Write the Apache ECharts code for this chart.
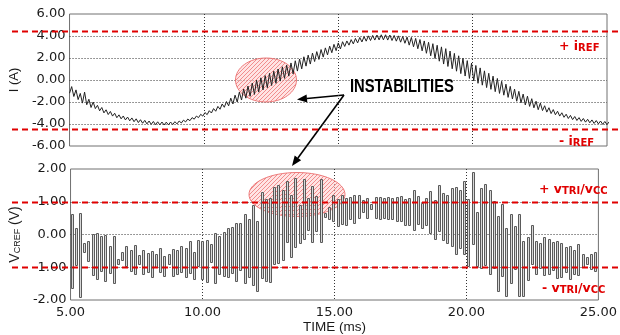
<!DOCTYPE html>
<html>
<head>
<meta charset="utf-8">
<script src="https://cdn.jsdelivr.net/npm/echarts@6/dist/echarts.min.js"></script>
<style>
html, body { margin: 0; padding: 0; background: #ffffff; }
#chart { width: 620px; height: 335px; }
</style>
</head>
<body>
<div id="chart"></div>
<script>
// Inductor current: alternating ripple trough / crest, one value every 0.08 ms from 5 ms
const currentStart = 5.0;
const currentStep = 0.08;
const currentA = [
  -1.2,-0.6, -1.5,-0.9, -1.78,-1.22, -2.1,-1.1, -2.25,-1.75, -2.5,-2.0, -2.6,-2.3, -2.8,-2.5, -2.99,-2.71, -3.14,-2.86,
  -3.28,-3.02, -3.43,-3.17, -3.53,-3.27, -3.63,-3.37, -3.71,-3.45, -3.79,-3.53, -3.87,-3.61, -3.93,-3.67, -3.99,-3.73, -4.03,-3.77,
  -4.06,-3.8, -4.08,-3.82, -4.09,-3.83, -4.08,-3.82, -4.05,-3.79, -3.99,-3.73, -3.91,-3.65, -3.81,-3.55, -3.7,-3.42, -3.56,-3.28,
  -3.42,-3.12, -3.28,-2.96, -3.15,-2.79, -3.0,-2.6, -2.84,-2.4, -2.66,-2.18, -2.48,-1.96, -2.35,-1.65, -2.18,-1.38, -2.0,-1.1,
  -1.82,-0.82, -1.65,-0.55, -1.48,-0.28, -1.31,-0.01, -1.1,0.2, -0.9,0.4, -0.7,0.6, -0.5,0.8, -0.3,1.0, -0.1,1.2,
  0.15,1.35, 0.35,1.55, 0.55,1.75, 0.81,1.91, 1.01,2.11, 1.26,2.26, 1.45,2.45, 1.68,2.58, 1.87,2.77, 2.08,2.92,
  2.28,3.08, 2.48,3.24, 2.67,3.37, 2.82,3.48, 3.05,3.55, 3.17,3.67, 3.28,3.78, 3.37,3.87, 3.46,3.94, 3.53,4.01,
  3.59,4.05, 3.63,4.09, 3.65,4.11, 3.65,4.11, 3.63,4.09, 3.59,4.05, 3.53,4.01, 3.44,3.96, 3.34,3.9, 3.17,3.87,
  3.02,3.78, 2.84,3.68, 2.65,3.55, 2.43,3.43, 2.2,3.3, 1.96,3.16, 1.71,3.01, 1.45,2.85, 1.23,2.63, 1.02,2.42,
  0.8,2.2, 0.58,1.98, 0.36,1.76, 0.14,1.54, -0.08,1.32, -0.3,1.1, -0.47,0.83, -0.69,0.61, -0.85,0.35, -1.06,0.14,
  -1.22,-0.12, -1.38,-0.38, -1.58,-0.58, -1.73,-0.83, -1.93,-1.03, -2.08,-1.28, -2.27,-1.47, -2.4,-1.7, -2.53,-1.93, -2.7,-2.1,
  -2.78,-2.34, -2.92,-2.52, -3.05,-2.69, -3.16,-2.84, -3.28,-2.98, -3.39,-3.11, -3.5,-3.22, -3.6,-3.32, -3.68,-3.42, -3.76,-3.5,
  -3.83,-3.57, -3.89,-3.63, -3.95,-3.69, -3.99,-3.73, -4.03,-3.77, -4.06,-3.8
];

// Control voltage V_CREF: one held pulse every 0.16 ms, its upper and lower level
const pulseStart = 5.0;
const pulsePeriod = 0.16;
const pulseHigh = [
  0.64, 0.19, 0.67, -0.27, -0.19, 0.03, 0.06, -0.04, -0.01, -0.34,
  -0.06, -0.75, -0.52, -0.35, -0.47, -0.32, -0.62, -0.47, -0.55, -0.50,
  -0.60, -0.41, -0.65, -0.60, -0.45, -0.47, -0.36, -0.41, -0.21, -0.53,
  -0.16, -0.20, -0.17, -0.29, 0.06, -0.05, 0.09, 0.19, 0.24, 0.36,
  0.36, 0.62, 0.46, 0.90, 0.41, 1.30, 1.09, 1.12, 1.44, 1.52,
  1.37, 1.63, 1.20, 1.73, 0.89, 1.68, 1.10, 1.47, 1.17, 1.68,
  0.65, 0.84, 1.20, 1.07, 1.22, 1.12, 1.14, 1.20, 1.22, 1.04,
  1.12, 0.92, 1.14, 1.15, 1.12, 1.14, 1.12, 1.15, 1.17, 1.09,
  1.12, 1.37, 1.17, 0.97, 1.12, 1.34, 1.04, 1.50, 1.27, 1.22,
  1.42, 1.44, 1.37, 1.63, 1.08, 1.91, 0.69, 1.42, 1.53, 1.37,
  1.02, 0.57, 0.94, 0.21, 0.62, 0.26, 0.64, -0.19, -0.09, 0.29,
  -0.19, -0.25, -0.09, -0.14, -0.24, -0.21, -0.27, -0.39, -0.34, -0.47,
  -0.29, -0.60, -0.70, -0.60, -0.52
];
const pulseLow = [
  -1.63, -0.95, -1.89, -0.55, -0.80, -1.23, -1.35, -1.10, -1.40, -1.15,
  -1.48, -0.90, -0.75, -0.95, -1.10, -1.22, -0.90, -1.20, -1.12, -1.30,
  -1.00, -1.15, -1.25, -0.90, -1.28, -1.20, -1.15, -1.30, -1.20, -1.35,
  -0.95, -1.35, -1.45, -0.85, -1.48, -1.20, -1.25, -1.30, -1.17, -1.40,
  -1.06, -1.50, -1.32, -1.53, -1.73, -1.32, -1.42, -1.45, -0.90, -0.85,
  -0.78, -0.24, -0.68, -0.39, -0.27, -0.14, 0.11, -0.24, 0.11, -0.24,
  0.52, 0.46, 0.40, 0.26, 0.33, 0.29, 0.46, 0.36, 0.52, 0.67,
  0.52, 0.77, 0.50, 0.47, 0.52, 0.47, 0.47, 0.42, 0.42, 0.31,
  0.31, 0.16, 0.33, 0.21, 0.31, 0.06, -0.14, 0.11, -0.17, -0.24,
  -0.34, -0.60, -0.39, -0.60, -0.96, -0.29, -0.95, -1.03, -0.95, -1.20,
  -1.02, -1.71, -1.25, -1.86, -1.50, -1.06, -1.86, -1.86, -1.40, -0.90,
  -1.20, -1.00, -1.25, -1.20, -1.10, -1.35, -1.30, -1.15, -1.35, -1.20,
  -1.25, -1.00, -0.90, -1.05, -1.10
];

// Reference levels: current band +/- i_REF and comparator band +/- v_TRI/v_CC
const currentBand = [4.45, -4.45];
const voltageBand = [1.0, -1.0];

// Axis ranges
const timeRange = { min: 5, max: 25, interval: 5 };
const currentRange = { min: -6, max: 6, interval: 2 };
const voltageRange = { min: -2, max: 2, interval: 1 };

const pulseWidth = 0.085;
const NUM_FONT = "'DejaVu Sans', sans-serif";
const TXT_FONT = "'Liberation Sans', Arial, sans-serif";
const RED = '#e00000';

const currentData = currentA.map((v, k) => [currentStart + k * currentStep, v]);
const pulseData = pulseHigh.map((h, i) => [pulseStart + i * pulsePeriod, h, pulseLow[i]]);

const chart = echarts.init(document.getElementById('chart'), null, { renderer: 'canvas' });

const splitStyle = { show: true, showMinLine: false, showMaxLine: false, lineStyle: { color: '#333', type: [1, 2], width: 1 } };
const numLabel = (size) => ({
  show: true, fontFamily: NUM_FONT, fontSize: size, color: '#1a1a1a',
  formatter: (v) => v.toFixed(2)
});

function bandLine(axisIndex, levels) {
  return {
    type: 'custom', xAxisIndex: axisIndex, yAxisIndex: axisIndex, clip: false, z: 6, silent: true,
    data: levels.map(v => [timeRange.min, v]),
    encode: { x: 0, y: 1 },
    renderItem: (params, api) => {
      const y = Math.round(api.coord([api.value(0), api.value(1)])[1]) + 0.5;
      return {
        type: 'line',
        shape: { x1: 12, y1: y, x2: api.getWidth(), y2: y },
        style: { stroke: RED, lineWidth: 2, lineDash: [6, 4] }
      };
    }
  };
}

function hatchCanvas() {
  const c = document.createElement('canvas');
  c.width = 4; c.height = 4;
  const g = c.getContext('2d');
  g.fillStyle = 'rgba(255,205,205,0.55)';
  g.fillRect(0, 0, 4, 4);
  g.strokeStyle = 'rgba(230,70,70,0.55)';
  g.lineWidth = 1;
  g.beginPath(); g.moveTo(-1, 5); g.lineTo(5, -1); g.stroke();
  return c;
}
const hatch = { image: hatchCanvas(), repeat: 'repeat' };

function arrow(x1, y1, x2, y2) {
  const ang = Math.atan2(y2 - y1, x2 - x1);
  const len = 10, half = 4;
  const bx = x2 - len * Math.cos(ang), by = y2 - len * Math.sin(ang);
  const nx = -Math.sin(ang), ny = Math.cos(ang);
  return [
    { type: 'line', shape: { x1: x1, y1: y1, x2: bx, y2: by }, style: { stroke: '#000', lineWidth: 1.6 } },
    { type: 'polygon', shape: { points: [[x2, y2], [bx + nx * half, by + ny * half], [bx - nx * half, by - ny * half]] }, style: { fill: '#000' } }
  ];
}

function redLabel(x, y, parts) {
  const text = parts.map(p => '{' + (p[1] ? 's' : 'm') + '|' + p[0] + '}').join('');
  return {
    type: 'text', x: x, y: y, z: 20,
    style: {
      text: text, align: 'left', verticalAlign: 'middle',
      rich: {
        m: { fontFamily: NUM_FONT, fontWeight: 'bold', fontSize: 12.5, fill: RED, lineHeight: 18, verticalAlign: 'bottom' },
        s: { fontFamily: NUM_FONT, fontWeight: 'bold', fontSize: 10, fill: RED, lineHeight: 9, verticalAlign: 'bottom' }
      }
    }
  };
}

const option = {
  animation: false,
  backgroundColor: '#ffffff',
  grid: [
    { left: 63, top: 14, width: 544, height: 132, show: true, borderColor: '#707070', borderWidth: 1, backgroundColor: 'transparent' },
    { left: 63, top: 169, width: 544, height: 132, show: true, borderColor: '#707070', borderWidth: 1, backgroundColor: 'transparent' }
  ],
  xAxis: [
    {
      gridIndex: 0, type: 'value', min: timeRange.min, max: timeRange.max, interval: timeRange.interval,
      axisLine: { show: false }, axisTick: { show: false }, axisLabel: { show: false }, splitLine: splitStyle
    },
    {
      gridIndex: 1, type: 'value', min: timeRange.min, max: timeRange.max, interval: timeRange.interval,
      axisLine: { show: false }, axisTick: { show: false },
      axisLabel: Object.assign(numLabel(13), { margin: 6 }),
      splitLine: splitStyle,
      name: 'TIME (ms)', nameLocation: 'middle', nameGap: 20,
      nameTextStyle: { fontFamily: TXT_FONT, fontSize: 13.5, color: '#1a1a1a' }
    }
  ],
  yAxis: [
    {
      gridIndex: 0, type: 'value', min: currentRange.min, max: currentRange.max, interval: currentRange.interval,
      axisLine: { show: false }, axisTick: { show: false },
      axisLabel: Object.assign(numLabel(13), { margin: 4 }),
      splitLine: splitStyle,
      name: 'I (A)', nameLocation: 'middle', nameGap: 37, nameRotate: 90,
      nameTextStyle: { fontFamily: TXT_FONT, fontSize: 13, color: '#1a1a1a' }
    },
    {
      gridIndex: 1, type: 'value', min: voltageRange.min, max: voltageRange.max, interval: voltageRange.interval,
      axisLine: { show: false }, axisTick: { show: false },
      axisLabel: Object.assign(numLabel(13), { margin: 4 }),
      splitLine: splitStyle,
      name: '{v|V}{s|CREF}{v| (V)}', nameLocation: 'middle', nameGap: 41, nameRotate: 90,
      nameTextStyle: {
        rich: {
          v: { fontFamily: TXT_FONT, fontSize: 14, color: '#1a1a1a', lineHeight: 16, verticalAlign: 'bottom' },
          s: { fontFamily: TXT_FONT, fontSize: 9, color: '#1a1a1a', lineHeight: 9, verticalAlign: 'bottom' }
        }
      }
    }
  ],
  series: [
    {
      type: 'line', xAxisIndex: 0, yAxisIndex: 0, data: currentData, showSymbol: false, z: 4,
      lineStyle: { color: '#222', width: 1 }
    },
    {
      type: 'custom', xAxisIndex: 1, yAxisIndex: 1, data: pulseData, z: 4,
      encode: { x: 0, y: [1, 2] },
      renderItem: (params, api) => {
        const t = api.value(0);
        const p1 = api.coord([t, api.value(1)]);
        const p2 = api.coord([t + pulseWidth, api.value(2)]);
        return {
          type: 'rect',
          shape: { x: Math.round(p1[0]) + 0.5, y: Math.round(p1[1]) + 0.5, width: Math.max(2, Math.round(p2[0] - p1[0])), height: Math.round(p2[1] - p1[1]) },
          style: { fill: '#d8d8d8', stroke: '#5a5a5a', lineWidth: 1 }
        };
      }
    },
    bandLine(0, currentBand),
    bandLine(1, voltageBand)
  ],
  graphic: [
    { type: 'ellipse', z: 1, shape: { cx: 266, cy: 80, rx: 30.5, ry: 22 }, style: { fill: hatch, stroke: 'rgba(235,110,110,0.9)', lineWidth: 1 } },
    { type: 'ellipse', z: 1, shape: { cx: 297, cy: 194.5, rx: 48, ry: 22 }, style: { fill: hatch, stroke: 'rgba(235,110,110,0.9)', lineWidth: 1 } },
    ...arrow(344, 95, 297, 99.5),
    ...arrow(344, 95, 292, 166),
    {
      type: 'text', x: 350, y: 87, z: 20, scaleX: 0.82,
      style: { text: 'INSTABILITIES', fontFamily: TXT_FONT, fontWeight: 'bold', fontSize: 18, fill: '#000', align: 'left', verticalAlign: 'middle' }
    },
    redLabel(559, 44, [['+ i'], ['REF', 1]]),
    redLabel(559, 139, [['- i'], ['REF', 1]]),
    redLabel(539, 187, [['+ v'], ['TRI', 1], ['/v'], ['CC', 1]]),
    redLabel(542, 286, [['- v'], ['TRI', 1], ['/v'], ['CC', 1]])
  ]
};

chart.setOption(option);
</script>
</body>
</html>
